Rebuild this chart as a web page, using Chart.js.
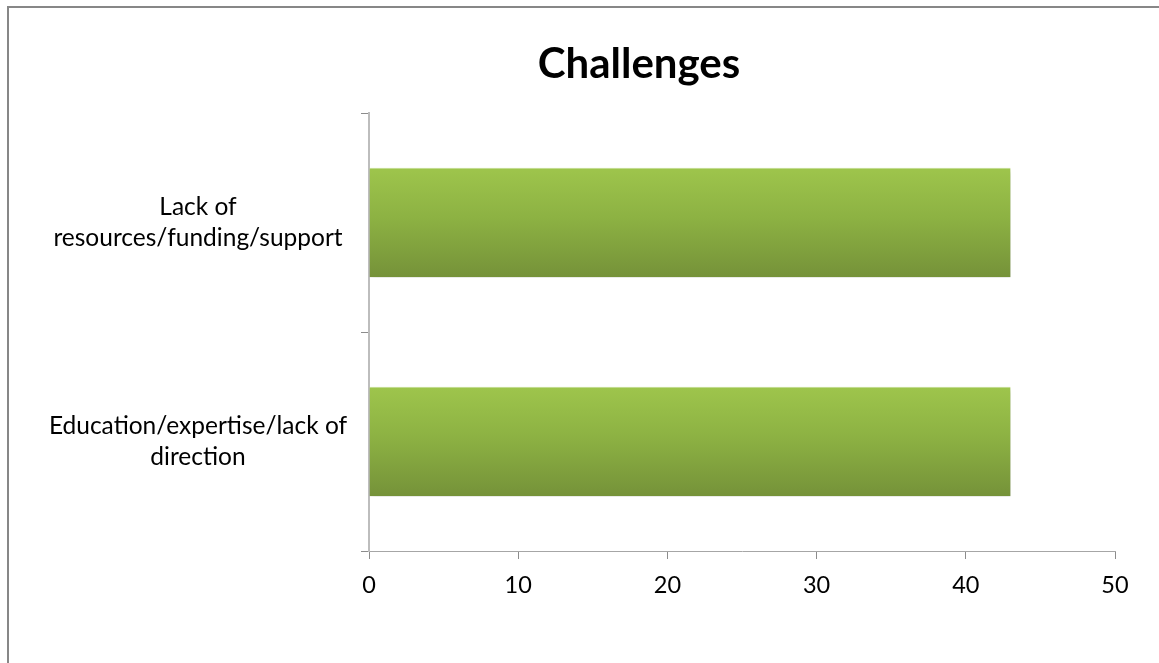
<!DOCTYPE html>
<html><head><meta charset="utf-8">
<script src="https://cdn.jsdelivr.net/npm/chart.js@4.4.1/dist/chart.umd.min.js"></script>
<style>
html,body{margin:0;padding:0;background:#fff;overflow:hidden}
#wrap{position:relative;width:1159px;height:663px}
#frame{position:absolute;left:7px;top:6px;width:1200px;height:700px;border-left:2px solid #878787;border-top:2px solid #878787;pointer-events:none}
canvas{position:absolute;left:0;top:0}
</style></head><body>
<div id="wrap"><canvas id="c" width="1159" height="663"></canvas><div id="frame"></div></div>
<script>
const chartTitle = 'Challenges';
const categories = [['Lack of', 'resources/funding/support'], ['Education/expertise/lack of', 'direction']];
const values = [43, 43];
const xMin = 0, xMax = 50, xStep = 10;

const FONT = 'Lato';
const labelSize = 24.5;
const tickSize = 23.5;
const titleSize = 42;
const AREA = {left: 369, right: 1115, top: 113, bottom: 551};
const TITLE_CENTER_X = 639;
const LABEL_CENTER_X = 198;
const TICK_LEN = 8;
const PAD_RIGHT = 1159 - AREA.right;

// measure widest category line to center labels at LABEL_CENTER_X
const mctx = document.createElement('canvas').getContext('2d');
mctx.font = labelSize + 'px ' + FONT;
let widest = 0;
categories.forEach(c => c.forEach(l => { widest = Math.max(widest, mctx.measureText(l).width); }));
const yPad = AREA.left - TICK_LEN - LABEL_CENTER_X - widest / 2;

const shadowPlugin = {
  id: 'barShadow',
  afterLayout(chart) {
    const t = chart.titleBlock;
    if (t) {
      const half = Math.min(t.right - TITLE_CENTER_X, TITLE_CENTER_X);
      t.left = TITLE_CENTER_X - half;
      t.right = TITLE_CENTER_X + half;
      t.width = t.right - t.left;
    }
  },
  beforeDatasetsDraw(chart) {
    const ctx = chart.ctx;
    ctx.save();
    ctx.shadowColor = 'rgba(0,0,0,0.28)';
    ctx.shadowBlur = 5;
    ctx.shadowOffsetX = 1;
    ctx.shadowOffsetY = 3;
  },
  afterDatasetsDraw(chart) { chart.ctx.restore(); }
};

function barGradient(context) {
  const chart = context.chart;
  const ys = chart.scales.y;
  if (!ys || !chart.chartArea) return '#8db043';
  const yc = ys.getPixelForValue(context.dataIndex);
  const half = (ys.height / categories.length) * 0.5 / 2;
  const g = chart.ctx.createLinearGradient(0, yc - half, 0, yc + half);
  g.addColorStop(0, 'rgb(158,197,76)');
  g.addColorStop(0.45, 'rgb(141,178,67)');
  g.addColorStop(1, 'rgb(117,146,57)');
  return g;
}

const titleLH = titleSize * 1.2;
const titleTop = 64 - titleLH / 2;

new Chart(document.getElementById('c'), {
  type: 'bar',
  data: {
    labels: categories,
    datasets: [{
      data: values,
      backgroundColor: barGradient,
      borderColor: 'rgba(190,220,130,0.9)',
      borderWidth: {top: 1, left: 0, right: 0, bottom: 0},
      borderSkipped: false,
      barPercentage: 0.5,
      categoryPercentage: 1.0
    }]
  },
  options: {
    indexAxis: 'y',
    responsive: false,
    animation: false,
    devicePixelRatio: 1,
    layout: {padding: {left: 0, right: PAD_RIGHT, top: 0, bottom: 0}},
    plugins: {
      legend: {display: false},
      tooltip: {enabled: false},
      title: {
        display: true,
        text: chartTitle,
        color: '#000',
        font: {family: FONT, size: titleSize, weight: 'bold', lineHeight: 1.2},
        padding: {top: titleTop, bottom: AREA.top - titleTop - titleLH}
      }
    },
    scales: {
      x: {
        min: xMin, max: xMax,
        ticks: {stepSize: xStep, color: '#000', font: {family: FONT, size: tickSize}, padding: 12},
        grid: {drawOnChartArea: false, drawTicks: true, tickLength: TICK_LEN, color: '#8C8C8C', lineWidth: 1},
        border: {display: true, color: '#A6A6A6', width: 1},
        afterFit(s) { s.height = 663 - AREA.bottom; }
      },
      y: {
        ticks: {color: '#000', font: {family: FONT, size: labelSize, lineHeight: 1.27}, crossAlign: 'center', padding: yPad},
        grid: {offset: true, drawOnChartArea: false, drawTicks: true, tickLength: TICK_LEN, color: '#8C8C8C', lineWidth: 1},
        border: {display: true, color: '#BDBDBD', width: 2},
        afterFit(s) { s.width = AREA.left; }
      }
    }
  },
  plugins: [shadowPlugin]
});
</script>
</body></html>
